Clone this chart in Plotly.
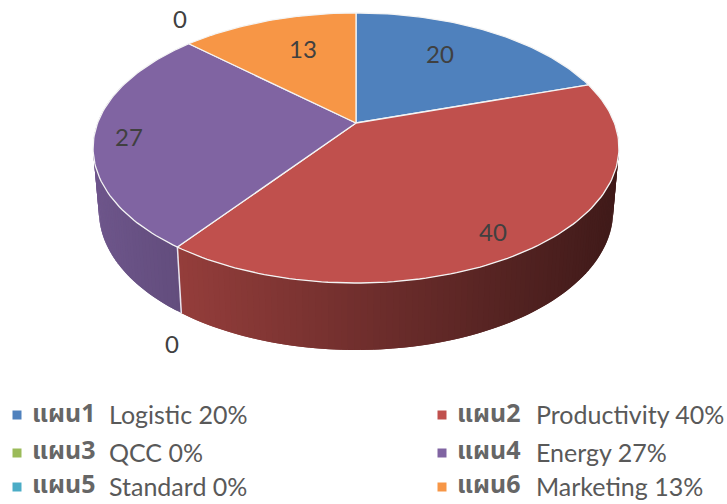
import numpy as np
import plotly.graph_objects as go

plans = ["แผน1", "แผน2", "แผน3", "แผน4", "แผน5", "แผน6"]
names = ["Logistic", "Productivity", "QCC", "Energy", "Standard", "Marketing"]
values = [20, 40, 0, 27, 0, 13]
colors = ["#4f81bd", "#c0504d", "#9bbb59", "#8064a2", "#4bacc6", "#f79646"]

# tilted disc, perspective look of the office 3d pie
CX, CY = 356, 123
RX, RY, PERSP = 258.4, 130.4, 0.185
TEXT = "#595959"
THAI = "Noto Sans Thai, Noto Sans, Tahoma, DejaVu Sans, sans-serif"
LATIN = "Lato, Open Sans, sans-serif"

# data label nudges in px, one per slice
label_shift = [(-15, -1), (14, 23), (-5, 96), (-39, 5), (-9, -25), (13, 2)]
# legend layout in px
legend_x = [17, 442, 17, 442, 17, 442]
legend_y = [415, 415, 453, 453, 487, 487]
thai_y = [414, 414, 451, 451, 485, 485]
latin_gap = [90, 92, 90, 92, 90, 92]


def project(share, r=1.0):
    # share is the running percentage clockwise from 12 o'clock
    t = np.radians(np.asarray(share, dtype=float) * 3.6)
    u, v = r * np.sin(t), r * np.cos(t)
    d = 1 + PERSP * v
    return CX + RX * u / d, CY - RY * v / d


def project_low(share):
    x, y = project(share)
    t = np.radians(np.asarray(share, dtype=float) * 3.6)
    return CX + 0.978 * (x - CX), y + 62 - 5 * np.cos(t)


def shade(hex_color, f):
    rgb = [int(hex_color[i:i + 2], 16) for i in (1, 3, 5)]
    return "rgb(%d,%d,%d)" % tuple(c * f for c in rgb)


edges = np.concatenate([[0], np.cumsum(values)])
fig = go.Figure()

# side wall, strips overlap each other so no ribs show
for i, val in enumerate(values):
    lo = max(edges[i], 26.0)
    hi = min(edges[i + 1], 80.0)
    if val == 0 or hi <= lo:
        continue
    steps = np.linspace(lo, hi, int((hi - lo) * 3) + 2)
    step = steps[1] - steps[0]
    for a, b in zip(steps[:-1], steps[1:]):
        s = np.array([a, min(b + step, hi)])
        x1, y1 = project(s)
        x2, y2 = project_low(s[::-1])
        f = 0.86 - 0.001 * (x1[0] - 93)
        c = shade(colors[i], f)
        fig.add_trace(go.Scatter(
            x=np.concatenate([x1, x2]), y=np.concatenate([y1, y2]),
            mode="lines", fill="toself", fillcolor=c,
            line=dict(width=0), hoverinfo="skip", showlegend=False))

# white seam where red meets purple on the wall
seam = edges[3]
sx0, sy0 = project(seam)
sx1, sy1 = project_low(seam)
fig.add_trace(go.Scatter(x=[sx0, sx1], y=[sy0, sy1], mode="lines",
                         line=dict(color="#e8e4ee", width=1.5),
                         hoverinfo="skip", showlegend=False))

# top face
for i, val in enumerate(values):
    if val == 0:
        continue
    arc = np.linspace(edges[i], edges[i + 1], int(val * 3) + 2)
    ax, ay = project(arc)
    fig.add_trace(go.Scatter(
        x=np.concatenate([[CX], ax, [CX]]), y=np.concatenate([[CY], ay, [CY]]),
        mode="lines", fill="toself", fillcolor=colors[i],
        line=dict(color="#f4f4f4", width=1.3), hoverinfo="skip", showlegend=False))

# data labels
for i, val in enumerate(values):
    mid = (edges[i] + edges[i + 1]) / 2
    lx, ly = project(mid, 0.72 if val else 1.0)
    fig.add_annotation(x=float(lx), y=float(ly), text=str(val), showarrow=False,
                       xshift=label_shift[i][0], yshift=-label_shift[i][1],
                       font=dict(family=LATIN, size=24, color="#404040"))

# legend, two columns like the original
fig.add_trace(go.Scatter(x=legend_x, y=legend_y, mode="markers",
                         marker=dict(symbol="square", size=9, color=colors),
                         hoverinfo="skip", showlegend=False))
for i, plan in enumerate(plans):
    fig.add_annotation(
        x=legend_x[i] + 13, y=thai_y[i], xanchor="left", showarrow=False,
        text="<b>%s</b>" % plan,
        font=dict(family=THAI, size=25, color="#666666"))
    fig.add_annotation(
        x=legend_x[i] + latin_gap[i], y=legend_y[i], xanchor="left", showarrow=False,
        yshift=1, text="%s %d%%" % (names[i], values[i]),
        font=dict(family=LATIN, size=25, color=TEXT))

fig.update_layout(
    width=727, height=504, showlegend=False,
    margin=dict(l=0, r=0, t=0, b=0),
    paper_bgcolor="white", plot_bgcolor="white",
    xaxis=dict(range=[0, 727], visible=False, fixedrange=True),
    yaxis=dict(range=[504, 0], visible=False, fixedrange=True))
# the page's default body margin would push everything 8px off
fig.write_html("out.html", config=dict(displayModeBar=False),
               post_script="document.body.style.margin='0';")
